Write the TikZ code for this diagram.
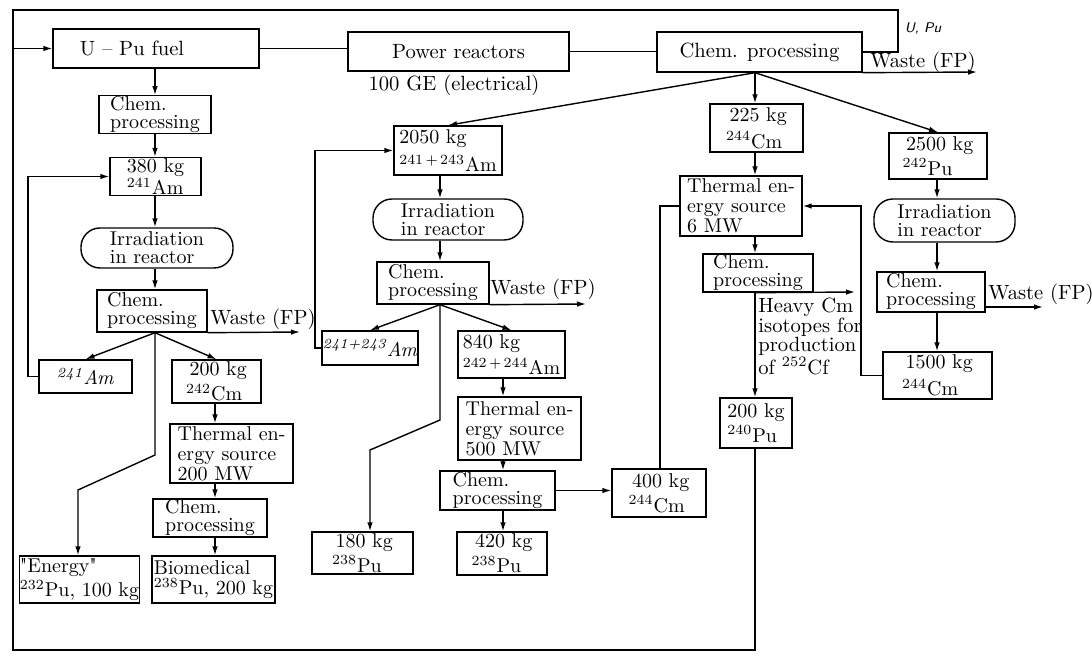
\documentclass[tikz,border=0pt]{standalone}
\usetikzlibrary{arrows.meta,calc}
\newcommand\iso[2]{\textsuperscript{#1}#2}
\newcommand\bx[7][]{\node[box,#1,minimum width={(#5-#3)*0.5pt},minimum height={(#6-#4)*0.5pt}] (#2) at ({(#3+#5)/2},{(#4+#6)/2}) {#7};}
\begin{document}
\begin{tikzpicture}[x=0.5pt,y=-0.5pt,
  box/.style={draw,line width=0.7pt,inner sep=0.3pt,align=left,font=\fontsize{10}{9}\selectfont},
  rbox/.style={rounded corners=9.5pt},
  arr/.style={line width=0.7pt,-{Latex[length=4.5pt,width=2.8pt]}},
  ln/.style={line width=0.7pt},
  lbl/.style={font=\fontsize{10.3}{9.6}\selectfont,inner sep=0pt}]
\useasboundingbox (0,0) rectangle (1092,656);
% top row
\bx[font=\fontsize{10.3}{9}\selectfont]{fuel}{53}{29}{259}{68}{U -- Pu fuel\hspace*{24pt}}
\bx[font=\fontsize{10.3}{9}\selectfont]{power}{348}{32}{569}{71}{Power reactors}
\bx[font=\fontsize{10.3}{9}\selectfont]{cp0}{657}{32}{862}{72}{Chem. processing}
\node[lbl] (ge) at (454,85) {100 GE (electrical)};
\node[lbl] (w0) at (923,62) {Waste (FP)};
\node[lbl,font=\sffamily\itshape\scriptsize] (upu) at (923,29) {U, Pu};
% left column
\bx{cp1}{99}{97}{211}{132}{Chem.\\processing}
\bx{m380}{110}{159}{201}{194}{380 kg\\\iso{241}{Am}}
\bx[rbox]{irr1}{81}{228}{233}{268}{Irradiation\\in reactor}
\bx{cp2}{97}{290}{207}{332}{Chem.\\processing}
\node[lbl] (w2) at (263,319) {Waste (FP)};
\bx{am1}{39}{360}{132}{393}{\textit{\iso{241}{Am}}}
\bx{c200}{172}{360}{261}{403}{\,200 kg\\[1pt]\iso{242}{Cm}}
\bx{th200}{170}{424}{293}{483}{Thermal en-\\[1pt]ergy source\\[1pt]200 MW}
\bx{cp3}{153}{499}{267}{537}{Chem.\\processing}
\bx{bio}{152}{556}{275}{603}{Biomedical\\[1pt]\iso{238}{Pu}, 200 kg}
\bx{energy}{20}{556}{139}{603}{\textquotedbl Energy\textquotedbl\\[1pt]\iso{232}{Pu}, 100 kg}
% middle column
\bx{c2050}{394}{126}{502}{175}{2050 kg\\[3pt]\iso{241\,+\,243}{Am}}
\bx[rbox]{irr2}{373}{199}{523}{240}{Irradiation\\in reactor}
\bx{cp4}{377}{262}{489}{304}{Chem.\\processing}
\node[lbl] (w4) at (543,289) {Waste (FP)};
\bx{am2}{326}{331}{414}{365}{\textit{\iso{241+243}{Am}}}
\bx{c840}{458}{331}{565}{378}{840 kg\\[2pt]\iso{242\,+\,244}{Am}}
\bx{th500}{458}{397}{581}{460}{Thermal en-\\[1pt]ergy source\\[1pt]500 MW}
\bx{cp5}{440}{471}{555}{510}{Chem.\\processing}
\bx{c420}{457}{532}{547}{575}{\,420 kg\\[1pt]\iso{238}{Pu}}
\bx{c180}{312}{532}{413}{574}{\,180 kg\\[1pt]\iso{238}{Pu}}
\bx{c400}{612}{469}{706}{517}{\,400 kg\\[1pt]\iso{244}{Cm}}
% right-middle column
\bx{c225}{710}{104}{803}{152}{\,225 kg\\[2pt]\iso{244}{Cm}}
\bx{th6}{680}{176}{802}{236}{Thermal en-\\[1pt]ergy source\\[1pt]6 MW}
\bx{cp6}{703}{254}{813}{292}{Chem.\\processing}
\node[lbl,anchor=north west,align=left] (heavy) at (758,298) {Heavy Cm\\isotopes for\\production\\of \iso{252}{Cf}};
\bx{pu240}{720}{398}{792}{448}{200 kg\\[1pt]\iso{240}{Pu}}
% right column
\bx{c2500}{889}{133}{987}{179}{\,2500 kg\\[1pt]\iso{242}{Pu}}
\bx[rbox]{irr3}{874}{199}{1015}{242}{Irradiation\\in reactor}
\bx{cp7}{877}{272}{985}{312}{Chem.\\processing}
\node[lbl] (w7) at (1041,294) {Waste (FP)};
\bx{c1500}{883}{352}{992}{399}{\,1500 kg\\[2pt]\iso{244}{Cm}}
% helper coordinates
\coordinate (xa) at (155,0);
\coordinate (xb) at (215,0);
\coordinate (xc) at (440,0);
\coordinate (xd) at (503,0);
\coordinate (xe) at (755,0);
\coordinate (xf) at (937,0);
\coordinate (xl1) at (28,0);
\coordinate (xl2) at (315,0);
\coordinate (xl3) at (861,0);
\coordinate (xl4) at (660,0);
\coordinate (tl) at (13,10);
\coordinate (bl) at (13,650);
\coordinate (br) at (755,650);
\coordinate (tr) at (898,10);
\coordinate (tr2) at (898,52);
\coordinate (we0) at (977,72);
\coordinate (we2) at (300,332);
\coordinate (we4) at (586,304);
\coordinate (we7) at (1043,307);
\coordinate (hc) at (855,292);
\coordinate (k1) at (155,455);
\coordinate (k2) at (78,490);
\coordinate (k3) at (440,420);
\coordinate (k4) at (370,450);
% top connections
\draw[ln] (fuel.east) -- (fuel.east -| power.west);
\draw[ln] (power.east) -- (power.east -| cp0.west);
\draw[ln] (cp0.east) -- (tr2) -- (tr) -- (tl) -- (bl) -- (br) -- (pu240.south -| xe);
\draw[arr] (fuel.west -| tl) -- (fuel.west);
\draw[arr] (cp0.south east) -- (we0);
\coordinate (b0) at (cp0.south -| xe);
\draw[arr] (b0) -- (c2050.north);
\draw[arr] (b0) -- (c225.north -| xe);
\draw[arr] (b0) -- (c2500.north);
% left column
\draw[arr] (fuel.south -| xa) -- (cp1.north -| xa);
\draw[arr] (cp1.south -| xa) -- (m380.north -| xa);
\draw[arr] (m380.south -| xa) -- (irr1.north -| xa);
\draw[arr] (irr1.south -| xa) -- (cp2.north -| xa);
\coordinate (b1) at (cp2.south -| xa);
\draw[arr] (cp2.south east) -- (we2);
\draw[arr] (b1) -- (am1.north);
\draw[arr] (b1) -- (c200.north);
\draw[arr] (b1) -- (k1) -- (k2) -- (energy.north -| k2);
\draw[arr] (am1.west) -- (am1.west -| xl1) |- (m380.west);
\draw[arr] (c200.south -| xb) -- (th200.north -| xb);
\draw[arr] (th200.south -| xb) -- (cp3.north -| xb);
\draw[arr] (cp3.south -| xb) -- (bio.north -| xb);
% middle column
\draw[arr] (c2050.south -| xc) -- (irr2.north -| xc);
\draw[arr] (irr2.south -| xc) -- (cp4.north -| xc);
\coordinate (b2) at (cp4.south -| xc);
\draw[arr] (cp4.south east) -- (we4);
\draw[arr] (b2) -- (am2.north);
\draw[arr] (b2) -- (c840.north);
\draw[arr] (b2) -- (k3) -- (k4) -- (c180.north -| k4);
\draw[arr] (am2.west) -- (am2.west -| xl2) |- (c2050.west);
\draw[arr] (c840.south -| xd) -- (th500.north -| xd);
\draw[arr] (th500.south -| xd) -- (cp5.north -| xd);
\draw[arr] (cp5.south -| xd) -- (c420.north -| xd);
\draw[arr] (cp5.east) -- (c400.west |- cp5.east);
\draw[ln] (c400.north -| xl4) |- (th6.west);
% right-middle column
\draw[arr] (c225.south -| xe) -- (th6.north -| xe);
\draw[arr] (th6.south -| xe) -- (cp6.north -| xe);
\coordinate (b3) at (cp6.south -| xe);
\draw[arr] (b3) -- (pu240.north -| xe);
\draw[arr] (b3) -- (hc);
% right column
\draw[arr] (c2500.south -| xf) -- (irr3.north -| xf);
\draw[arr] (irr3.south -| xf) -- (cp7.north -| xf);
\draw[arr] (cp7.south -| xf) -- (c1500.north -| xf);
\draw[arr] (cp7.east |- we7) -- (we7);
\draw[arr] (c1500.west) -- (c1500.west -| xl3) |- (th6.east);
\end{tikzpicture}
\end{document}
